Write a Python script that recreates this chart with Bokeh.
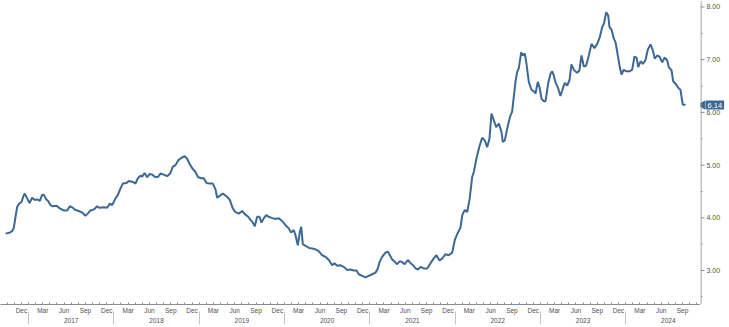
import math
from bokeh.plotting import figure
from bokeh.layouts import row
from bokeh.models import Range1d, LinearAxis, FixedTicker, Span
from bokeh.embed import file_html
from bokeh.resources import INLINE

# Time in decimal years, rate in percent
t_year = [
    2016.729, 2016.780, 2016.808, 2016.827, 2016.847, 2016.867, 2016.890, 2016.917, 2016.944, 2016.956,
    2016.984, 2017.011, 2017.042, 2017.073, 2017.101, 2017.132, 2017.160, 2017.178, 2017.207, 2017.230,
    2017.257, 2017.284, 2017.327, 2017.366, 2017.413, 2017.453, 2017.483, 2017.511, 2017.550, 2017.589,
    2017.629, 2017.667, 2017.694, 2017.726, 2017.765, 2017.804, 2017.831, 2017.882, 2017.922, 2017.952,
    2017.980, 2018.019, 2018.046, 2018.078, 2018.105, 2018.148, 2018.175, 2018.226, 2018.253, 2018.280,
    2018.312, 2018.332, 2018.359, 2018.391, 2018.418, 2018.449, 2018.488, 2018.520, 2018.546, 2018.585,
    2018.625, 2018.664, 2018.691, 2018.722, 2018.754, 2018.793, 2018.831, 2018.859, 2018.886, 2018.918,
    2018.957, 2018.988, 2019.027, 2019.054, 2019.086, 2019.121, 2019.160, 2019.191, 2019.211, 2019.250,
    2019.277, 2019.328, 2019.359, 2019.394, 2019.426, 2019.465, 2019.504, 2019.535, 2019.575, 2019.602,
    2019.629, 2019.652, 2019.680, 2019.707, 2019.730, 2019.757, 2019.786, 2019.816, 2019.848, 2019.886,
    2019.933, 2019.973, 2020.012, 2020.050, 2020.078, 2020.109, 2020.129, 2020.156, 2020.180, 2020.196,
    2020.215, 2020.246, 2020.285, 2020.325, 2020.364, 2020.402, 2020.442, 2020.481, 2020.520, 2020.559,
    2020.586, 2020.618, 2020.657, 2020.695, 2020.735, 2020.774, 2020.813, 2020.844, 2020.871, 2020.911,
    2020.950, 2020.988, 2021.028, 2021.067, 2021.094, 2021.117, 2021.145, 2021.184, 2021.211, 2021.235,
    2021.263, 2021.290, 2021.321, 2021.352, 2021.380, 2021.410, 2021.446, 2021.478, 2021.509, 2021.536,
    2021.565, 2021.595, 2021.634, 2021.673, 2021.712, 2021.750, 2021.782, 2021.817, 2021.849, 2021.888,
    2021.926, 2021.966, 2021.997, 2022.025, 2022.064, 2022.084, 2022.114, 2022.142, 2022.169, 2022.201,
    2022.220, 2022.251, 2022.286, 2022.318, 2022.348, 2022.376, 2022.403, 2022.427, 2022.454, 2022.482,
    2022.513, 2022.544, 2022.559, 2022.583, 2022.611, 2022.641, 2022.669, 2022.688, 2022.708, 2022.728,
    2022.747, 2022.775, 2022.794, 2022.817, 2022.837, 2022.864, 2022.896, 2022.923, 2022.943, 2022.970,
    2022.990, 2023.013, 2023.040, 2023.060, 2023.091, 2023.118, 2023.138, 2023.157, 2023.177, 2023.208,
    2023.235, 2023.262, 2023.286, 2023.314, 2023.341, 2023.364, 2023.391, 2023.431, 2023.458, 2023.482,
    2023.509, 2023.537, 2023.568, 2023.599, 2023.634, 2023.666, 2023.697, 2023.725, 2023.744, 2023.772,
    2023.795, 2023.810, 2023.834, 2023.861, 2023.881, 2023.908, 2023.931, 2023.951, 2023.978, 2024.006,
    2024.045, 2024.076, 2024.103, 2024.127, 2024.147, 2024.174, 2024.201, 2024.232, 2024.259, 2024.291,
    2024.318, 2024.341, 2024.369, 2024.396, 2024.428, 2024.458, 2024.486, 2024.505, 2024.537, 2024.557,
    2024.592, 2024.615, 2024.642, 2024.669, 2024.701,
]
rate = [
    3.70, 3.72, 3.75, 3.81, 4.02, 4.21, 4.27, 4.30, 4.43, 4.46,
    4.37, 4.28, 4.38, 4.34, 4.35, 4.32, 4.44, 4.44, 4.35, 4.32,
    4.24, 4.22, 4.23, 4.18, 4.14, 4.14, 4.22, 4.20, 4.15, 4.13,
    4.10, 4.04, 4.08, 4.14, 4.16, 4.22, 4.19, 4.20, 4.19, 4.27,
    4.24, 4.37, 4.43, 4.56, 4.65, 4.66, 4.70, 4.68, 4.65, 4.75,
    4.80, 4.78, 4.85, 4.77, 4.83, 4.82, 4.77, 4.78, 4.84, 4.82,
    4.79, 4.85, 4.97, 5.00, 5.09, 5.14, 5.17, 5.12, 5.03, 4.94,
    4.87, 4.77, 4.75, 4.75, 4.66, 4.65, 4.65, 4.54, 4.38, 4.43,
    4.46, 4.40, 4.34, 4.18, 4.11, 4.08, 4.13, 4.07, 4.02, 3.96,
    3.91, 3.84, 4.02, 4.02, 3.91, 3.99, 4.05, 4.02, 4.00, 3.98,
    3.99, 3.94, 3.86, 3.80, 3.72, 3.77, 3.67, 3.48, 3.73, 3.83,
    3.50, 3.47, 3.43, 3.42, 3.40, 3.37, 3.29, 3.26, 3.20, 3.10,
    3.14, 3.09, 3.10, 3.07, 3.01, 3.02, 3.00, 3.00, 2.93, 2.90,
    2.87, 2.90, 2.93, 2.96, 3.04, 3.17, 3.26, 3.34, 3.36, 3.29,
    3.21, 3.17, 3.12, 3.18, 3.16, 3.12, 3.20, 3.14, 3.10, 3.04,
    3.02, 3.07, 3.04, 3.04, 3.14, 3.23, 3.29, 3.19, 3.23, 3.31,
    3.29, 3.34, 3.58, 3.69, 3.82, 4.05, 4.15, 4.11, 4.34, 4.78,
    4.87, 5.13, 5.36, 5.52, 5.47, 5.34, 5.50, 5.98, 5.85, 5.72,
    5.79, 5.63, 5.44, 5.47, 5.69, 5.90, 6.02, 6.29, 6.58, 6.77,
    6.84, 7.14, 7.08, 7.12, 6.92, 6.58, 6.43, 6.40, 6.36, 6.58,
    6.48, 6.26, 6.21, 6.21, 6.55, 6.73, 6.78, 6.70, 6.57, 6.46,
    6.31, 6.45, 6.56, 6.51, 6.61, 6.91, 6.81, 6.75, 6.80, 7.08,
    6.87, 6.89, 7.08, 7.30, 7.22, 7.30, 7.43, 7.62, 7.68, 7.90,
    7.84, 7.62, 7.57, 7.40, 7.33, 7.08, 6.86, 6.72, 6.81, 6.78,
    6.78, 6.81, 7.06, 7.04, 6.86, 6.97, 6.92, 6.99, 7.19, 7.29,
    7.18, 7.02, 7.08, 7.06, 6.95, 7.04, 6.99, 6.86, 6.80, 6.59,
    6.53, 6.47, 6.43, 6.15, 6.14,
]

month_names = ["Dec", "Mar", "Jun", "Sep"]
month_numbers = [12, 3, 6, 9]
axis_years = [2016, 2017, 2018, 2019, 2020, 2021, 2022, 2023, 2024]
year_labels = ["2017", "2018", "2019", "2020", "2021", "2022", "2023", "2024"]
y_ticks = [3, 4, 5, 6, 7, 8]
y_minor = [2.5, 3.5, 4.5, 5.5, 6.5, 7.5]
last_value = 6.14
last_value_text = "6.14"

LINE = "#3d6894"
AX = "#8c8c8c"
TXT = "#505050"
FONT = "Liberation Sans"

x0, x1 = 2016.671, 2024.877
yr = Range1d(2.356, 8.123)
H = 327
BOT = 23

p = figure(width=700, height=H, output_backend="svg", toolbar_location=None,
           x_range=Range1d(x0, x1), y_range=yr, x_axis_type=None, y_axis_type=None,
           min_border_left=0, min_border_right=0, min_border_top=0, min_border_bottom=BOT)
p.outline_line_color = None
p.background_fill_color = "white"
p.border_fill_color = "white"

p.line(t_year, rate, line_color=LINE, line_width=2)

# bottom time axis: every month is a tick; labelled quarters; year label under mid-year
ticks, over = [], {}
for y in axis_years:
    for k in range(12):
        tk = round(y + k / 12, 6)
        if not (x0 < tk < x1):
            continue
        ticks.append(tk)
        lab = ""
        if (k + 1) in month_numbers:
            lab = month_names[month_numbers.index(k + 1)]
        if k == 6 and str(y) in year_labels:
            lab = "\n" + str(y)
        over[tk] = lab
year_bounds = [float(int(s)) for s in year_labels]
xa = LinearAxis(ticker=FixedTicker(ticks=ticks, minor_ticks=year_bounds),
                major_label_overrides=over)
xa.axis_line_color = AX
xa.major_tick_line_color = AX
xa.major_tick_in = 2
xa.major_tick_out = 0
xa.minor_tick_line_color = "#c4c4c4"
xa.minor_tick_in = -7
xa.minor_tick_out = 20
xa.major_label_standoff = -18
xa.major_label_text_font = FONT
xa.major_label_text_font_size = "6.5px"
xa.major_label_text_line_height = 1.5
xa.major_label_text_color = TXT
p.add_layout(xa, "below")

# right value axis drawn in a narrow side panel sharing the y range
s = figure(width=729 - 700, height=H, output_backend="svg", toolbar_location=None,
           x_range=Range1d(0, 29), y_range=yr, x_axis_type=None, y_axis_type=None,
           min_border_left=0, min_border_right=0, min_border_top=0, min_border_bottom=BOT)
s.outline_line_color = None
s.background_fill_color = "white"
s.border_fill_color = "white"
s.add_layout(Span(location=0.5, dimension="height", line_color=AX, line_width=1))
s.segment(x0=[0] * len(y_ticks), y0=y_ticks, x1=[4] * len(y_ticks), y1=y_ticks,
          line_color=AX, line_width=1)
s.segment(x0=[0] * len(y_minor), y0=y_minor, x1=[2] * len(y_minor), y1=y_minor,
          line_color=AX, line_width=1)
s.text(x=[6] * len(y_ticks), y=y_ticks, text=["%.2f" % v for v in y_ticks],
       text_font_size="7px", text_color=TXT, text_baseline="middle", text_align="left",
       text_font={"value": FONT})
s.scatter(x=[2.0], y=[last_value], marker="triangle", angle=math.pi / 2, size=8,
          fill_color=LINE, line_color=LINE)
s.text(x=[5.0], y=[last_value], text=[last_value_text], text_font_size="7.5px",
       text_color="white", text_baseline="middle", text_align="left",
       text_font={"value": FONT}, background_fill_color=LINE, padding=2)

layout = row(p, s, spacing=0)
open("out.html", "w").write(file_html(layout, INLINE))
